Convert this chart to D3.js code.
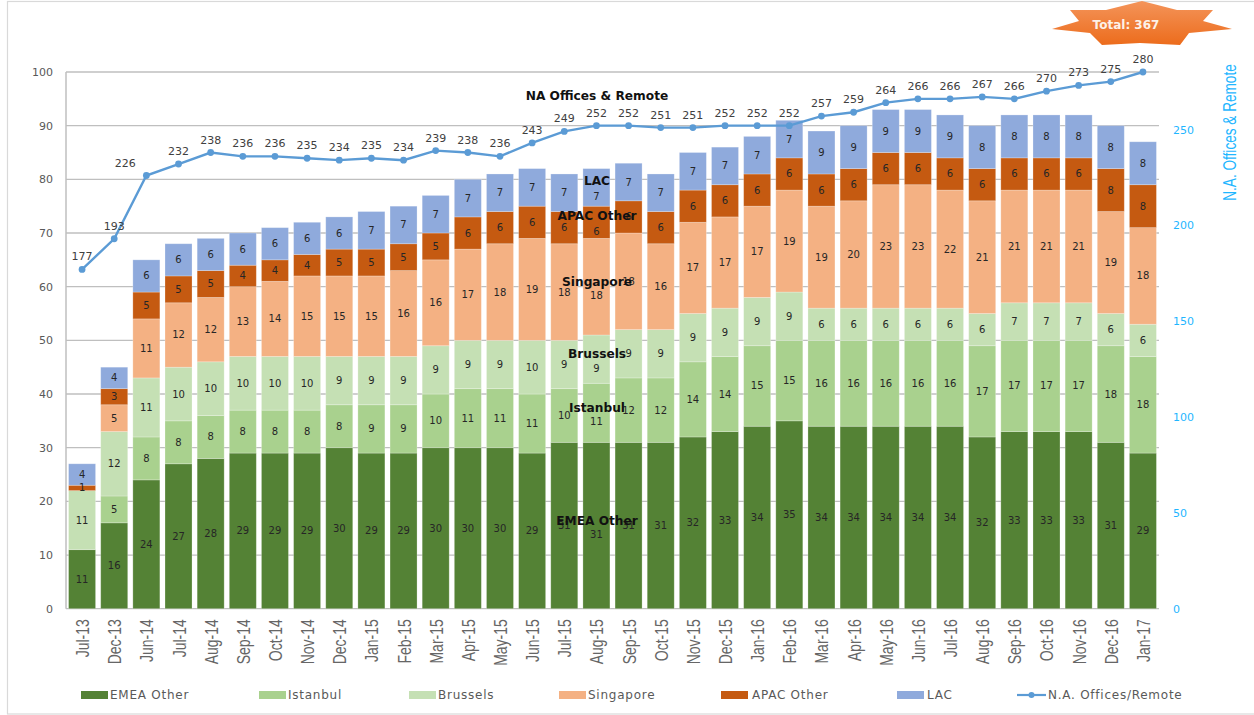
<!DOCTYPE html>
<html>
<head>
<meta charset="utf-8">
<script src="https://cdn.jsdelivr.net/npm/d3@7"></script>
<style>
  html, body { margin: 0; padding: 0; background: #fff; }
  svg { display: block; }
  text { font-family: "DejaVu Sans", sans-serif; }
</style>
</head>
<body>
<div id="chart"></div>
<script>
// Data
const months = ["Jul-13","Dec-13","Jun-14","Jul-14","Aug-14","Sep-14","Oct-14","Nov-14","Dec-14","Jan-15","Feb-15","Mar-15","Apr-15","May-15","Jun-15","Jul-15","Aug-15","Sep-15","Oct-15","Nov-15","Dec-15","Jan-16","Feb-16","Mar-16","Apr-16","May-16","Jun-16","Jul-16","Aug-16","Sep-16","Oct-16","Nov-16","Dec-16","Jan-17"];
const emeaOther = [11,16,24,27,28,29,29,29,30,29,29,30,30,30,29,31,31,31,31,32,33,34,35,34,34,34,34,34,32,33,33,33,31,29];
const istanbul = [0,5,8,8,8,8,8,8,8,9,9,10,11,11,11,10,11,12,12,14,14,15,15,16,16,16,16,16,17,17,17,17,18,18];
const brussels = [11,12,11,10,10,10,10,10,9,9,9,9,9,9,10,9,9,9,9,9,9,9,9,6,6,6,6,6,6,7,7,7,6,6];
const singapore = [0,5,11,12,12,13,14,15,15,15,16,16,17,18,19,18,18,18,16,17,17,17,19,19,20,23,23,22,21,21,21,21,19,18];
const apacOther = [1,3,5,5,5,4,4,4,5,5,5,5,6,6,6,6,6,6,6,6,6,6,6,6,6,6,6,6,6,6,6,6,8,8];
// bar heights for LAC, the printed labels differ for Mar-16..Jul-16
const lac = [4,4,6,6,6,6,6,6,6,7,7,7,7,7,7,7,7,7,7,7,7,7,7,8,8,8,8,8,8,8,8,8,8,8];
const lacLabels = [4,4,6,6,6,6,6,6,6,7,7,7,7,7,7,7,7,7,7,7,7,7,7,9,9,9,9,9,8,8,8,8,8,8];
const naOffices = [177,193,226,232,238,236,236,235,234,235,234,239,238,236,243,249,252,252,251,251,252,252,252,257,259,264,266,266,267,266,270,273,275,280];

const seriesNames = ["EMEA Other","Istanbul","Brussels","Singapore","APAC Other","LAC"];
const seriesColors = ["#548235","#A9D18E","#C5E0B4","#F4B183","#C55A11","#8FAADC"];
const lineName = "N.A. Offices/Remote";
const leftTicks = [0,10,20,30,40,50,60,70,80,90,100];
const rightTicks = [0,50,100,150,200,250];

const W = 1254, H = 715;
const plot = {left: 66, right: 1159, top: 72, bottom: 608.7};

const svg = d3.select("#chart").append("svg").attr("width", W).attr("height", H);

const defs = svg.append("defs");
const grad = defs.append("linearGradient").attr("id", "starFill").attr("x1", 0).attr("x2", 0).attr("y1", 0).attr("y2", 1);
grad.append("stop").attr("offset", "0%").attr("stop-color", "#F4945A");
grad.append("stop").attr("offset", "100%").attr("stop-color", "#EC6C1C");

// outer frame
svg.append("rect").attr("x", 7.5).attr("y", 1.5).attr("width", 1300).attr("height", 712.5)
    .attr("fill", "none").attr("stroke", "#D9D9D9").attr("stroke-width", 1.2);

const x = d3.scaleBand().domain(months).range([plot.left, plot.right]).paddingInner(0.16).paddingOuter(0.08);
const y = d3.scaleLinear().domain([0, 100]).range([plot.bottom, plot.top]);
const y2 = d3.scaleLinear().domain([0, 280]).range([plot.bottom, plot.top]);

// gridlines
svg.append("g").selectAll("line").data(leftTicks).join("line")
    .attr("x1", plot.left).attr("x2", plot.right)
    .attr("y1", d => y(d)).attr("y2", d => y(d))
    .attr("stroke", "#BFBFBF").attr("stroke-width", 1.3);
svg.append("line").attr("x1", plot.left).attr("x2", plot.left)
    .attr("y1", plot.top).attr("y2", plot.bottom)
    .attr("stroke", "#BFBFBF").attr("stroke-width", 1.5);

// left axis
const leftAxis = svg.append("g").attr("transform", `translate(${plot.left},0)`)
    .call(d3.axisLeft(y).tickValues(leftTicks).tickSize(0).tickPadding(13));
leftAxis.select(".domain").remove();
leftAxis.selectAll("text").attr("font-size", 11).attr("fill", "#595959")
    .style("font-family", '"DejaVu Sans", sans-serif');

// right axis
const rightAxis = svg.append("g").attr("transform", `translate(${plot.right},0)`)
    .call(d3.axisRight(y2).tickValues(rightTicks).tickSize(0).tickPadding(14));
rightAxis.select(".domain").remove();
rightAxis.selectAll("text").attr("font-size", 11).attr("fill", "#1FB6FF")
    .style("font-family", '"DejaVu Sans", sans-serif');

svg.append("text")
    .attr("transform", "translate(1236,132.5) rotate(-90) scale(1,1.3)")
    .attr("text-anchor", "middle")
    .style("font-family", '"Liberation Sans", sans-serif')
    .attr("font-size", 13.6).attr("fill", "#1FB6FF")
    .text("N.A. Offices & Remote");

// month labels
const bottomAxis = svg.append("g").attr("transform", `translate(0,${plot.bottom})`)
    .call(d3.axisBottom(x).tickSize(0).tickPadding(0));
bottomAxis.select(".domain").remove();
bottomAxis.selectAll("text")
    .attr("y", 0).attr("dy", 0)
    .attr("transform", "translate(7,10.5) rotate(-90) scale(1,1.35)")
    .attr("text-anchor", "end")
    .style("font-family", '"Liberation Sans", sans-serif')
    .attr("font-size", 14).attr("fill", "#666");

// stacked bars
const seriesValues = [emeaOther, istanbul, brussels, singapore, apacOther, lac];
const seriesLabels = [emeaOther, istanbul, brussels, singapore, apacOther, lacLabels];
const rows = months.map((m, i) => {
    const row = {month: m};
    seriesNames.forEach((s, k) => row[s] = seriesValues[k][i]);
    return row;
});
const stacked = d3.stack().keys(seriesNames)(rows);

stacked.forEach((layer, k) => {
    const g = svg.append("g");
    g.selectAll("rect").data(layer.filter(d => d[1] > d[0])).join("rect")
        .attr("x", d => x(d.data.month))
        .attr("y", d => y(d[1]))
        .attr("width", x.bandwidth())
        .attr("height", d => y(d[0]) - y(d[1]))
        .attr("fill", seriesColors[k])
        .attr("stroke", "#fff").attr("stroke-opacity", 0.3).attr("stroke-width", 0.8);
});

// labels inside the segments (the Aug-15 column sits a little lower in the original)
stacked.forEach((layer, k) => {
    svg.append("g").selectAll("text")
        .data(layer.map((d, i) => ({d, i})).filter(o => o.d[1] > o.d[0]))
        .join("text")
        .attr("x", o => x(o.d.data.month) + x.bandwidth() / 2)
        .attr("y", o => y((o.d[0] + o.d[1]) / 2) + (o.d.data.month === "Aug-15" ? 9 : 0))
        .attr("dy", "0.35em")
        .attr("text-anchor", "middle")
        .attr("font-size", 10)
        .attr("fill", "#262626")
        .text(o => seriesLabels[k][o.i]);
});

// line series
const lineX = m => x(m) + x.bandwidth() / 2;
const line = d3.line().x((d, i) => lineX(months[i])).y(d => y2(d));
svg.append("path").datum(naOffices)
    .attr("d", line).attr("fill", "none").attr("stroke", "#5B9BD5").attr("stroke-width", 2.4);
svg.append("g").selectAll("circle").data(naOffices).join("circle")
    .attr("cx", (d, i) => lineX(months[i]))
    .attr("cy", d => y2(d))
    .attr("r", 3.4).attr("fill", "#5B9BD5");
svg.append("g").selectAll("text").data(naOffices).join("text")
    .attr("x", (d, i) => lineX(months[i]) - (months[i] === "Jun-14" ? 21 : 0))
    .attr("y", d => y2(d) - 9)
    .attr("text-anchor", "middle")
    .attr("font-size", 11).attr("fill", "#404040")
    .text(d => d);

// series names typed over the bars
const annotations = [
    ["NA Offices & Remote", 96],
    ["LAC", 181],
    ["APAC Other", 216],
    ["Singapore", 282],
    ["Brussels", 354],
    ["Istanbul", 408],
    ["EMEA Other", 521]
];
svg.append("g").selectAll("text").data(annotations).join("text")
    .attr("x", 597).attr("y", d => d[1]).attr("dy", "0.35em")
    .attr("text-anchor", "middle")
    .attr("font-size", 12.2).attr("font-weight", "bold").attr("fill", "#111")
    .text(d => d[0]);

// star callout
const starPts = [[1142,1],[1177,10],[1213,10],[1203,21],[1232,29],[1189,33],[1180,45],[1140,43],[1102,45],[1090,33],[1052,29],[1079,21],[1070,10],[1106,10]];
svg.append("polygon").attr("points", starPts.map(p => p.join(",")).join(" ")).attr("fill", "url(#starFill)");
svg.append("text").attr("x", 1126).attr("y", 25).attr("dy", "0.35em").attr("text-anchor", "middle")
    .attr("font-size", 12).attr("font-weight", "bold").attr("fill", "#FDF1E8").text("Total: 367");

// legend
const legendX = [81, 259, 409, 559, 721, 897];
const legendTextX = [110, 288, 438, 588, 752, 927];
const legend = svg.append("g");
seriesNames.forEach((s, i) => {
    legend.append("rect").attr("x", legendX[i]).attr("y", 691).attr("width", 27).attr("height", 8).attr("fill", seriesColors[i]);
    legend.append("text").attr("x", legendTextX[i]).attr("y", 695).attr("dy", "0.35em")
        .attr("font-size", 12).attr("letter-spacing", 0.75).attr("fill", "#595959").text(s);
});
legend.append("line").attr("x1", 1017).attr("x2", 1046).attr("y1", 695).attr("y2", 695)
    .attr("stroke", "#5B9BD5").attr("stroke-width", 2.2);
legend.append("circle").attr("cx", 1031.5).attr("cy", 695).attr("r", 3).attr("fill", "#5B9BD5");
legend.append("text").attr("x", 1048).attr("y", 695).attr("dy", "0.35em")
    .attr("font-size", 12).attr("letter-spacing", 0.75).attr("fill", "#595959").text(lineName);
</script>
</body>
</html>
